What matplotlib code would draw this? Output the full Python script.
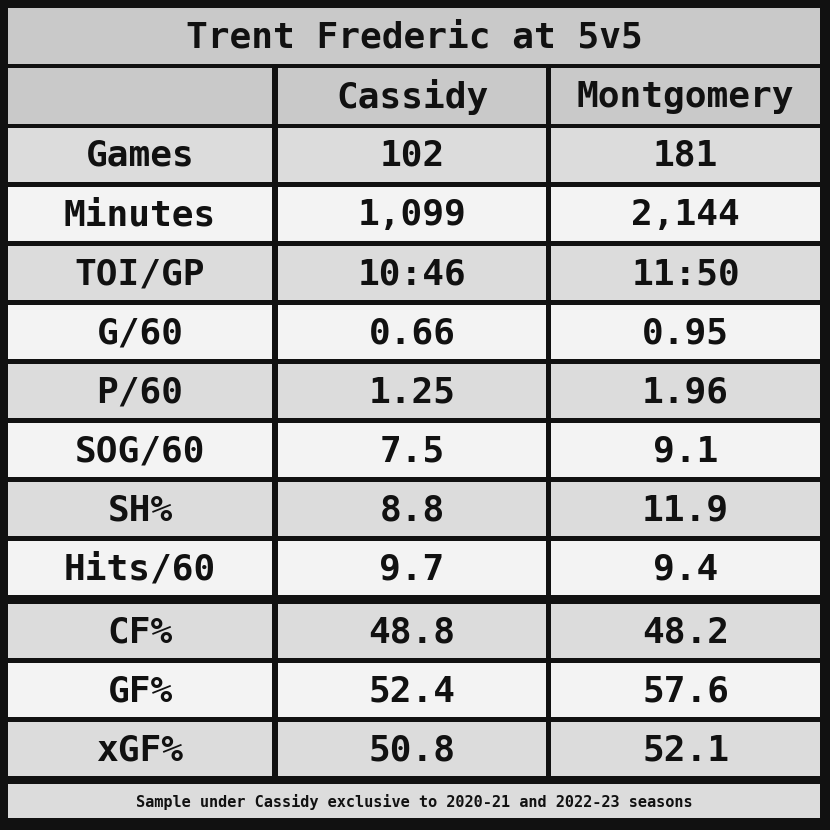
import matplotlib.pyplot as plt
from matplotlib.patches import Rectangle

title = "Trent Frederic at 5v5"
columns = ["", "Cassidy", "Montgomery"]
stats = ["Games", "Minutes", "TOI/GP", "G/60", "P/60", "SOG/60", "SH%", "Hits/60",
         "CF%", "GF%", "xGF%"]
cassidy = ["102", "1,099", "10:46", "0.66", "1.25", "7.5", "8.8", "9.7", "48.8", "52.4", "50.8"]
montgomery = ["181", "2,144", "11:50", "0.95", "1.96", "9.1", "11.9", "9.4", "48.2", "57.6", "52.1"]
footer = "Sample under Cassidy exclusive to 2020-21 and 2022-23 seasons"

font = "DejaVu Sans Mono"
fig = plt.figure(figsize=(8.3, 8.3), dpi=100)
fig.patch.set_facecolor("#111111")
ax = fig.add_axes([0, 0, 1, 1])
ax.set_xlim(0, 830)
ax.set_ylim(830, 0)
ax.axis("off")

cols = [(8, 272), (278, 546), (551, 820)]
gray = "#c9c9c9"
light = "#dcdcdc"
white = "#f3f3f3"


def cell(x0, x1, y0, y1, color, text, size=26):
    ax.add_patch(Rectangle((x0, y0), x1 - x0, y1 - y0, color=color, lw=0))
    ax.text((x0 + x1) / 2, (y0 + y1) / 2 + 1, text, ha="center", va="center",
            fontsize=size, fontweight="bold", family=font, color="#111111")


cell(8, 820, 8, 64, gray, title)
for (x0, x1), c in zip(cols, columns):
    cell(x0, x1, 68, 124, gray, c)

y = 128
for i, name in enumerate(stats):
    if i == 8:
        y += 4
    color = light if i % 2 == 0 else white
    for (x0, x1), t in zip(cols, [name, cassidy[i], montgomery[i]]):
        cell(x0, x1, y, y + 54, color, t)
    y += 59

cell(8, 820, 784, 818, light, footer, size=11)

fig.savefig("out.png", dpi=100, facecolor=fig.get_facecolor())
